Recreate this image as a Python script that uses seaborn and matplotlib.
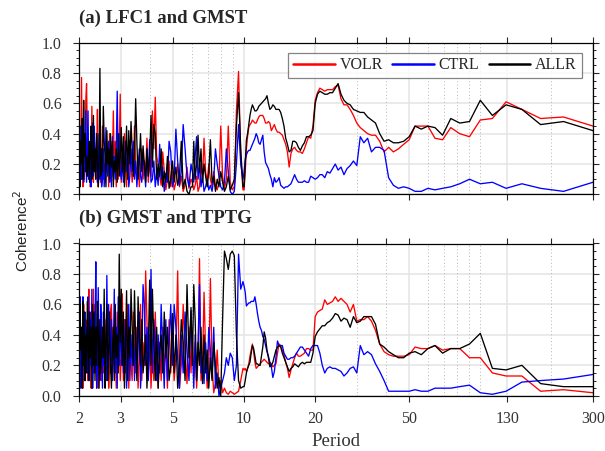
import numpy as np
import pandas as pd
import matplotlib
matplotlib.use("Agg")
import matplotlib.pyplot as plt
import seaborn as sns
from matplotlib.ticker import FixedLocator, NullFormatter, MultipleLocator, FormatStrFormatter

# spectral grid: harmonic k of a 900-yr record -> period = 900 / k
record_len = 900
k_long = np.arange(3, 91)                                   # periods 300 .. 10
k_short = np.concatenate([np.arange(91, 151, 2), np.arange(151, 451, 3)])  # periods 10 .. 2

runs = ["VOLR", "CTRL", "ALLR"]
run_colors = {"VOLR": "#ff0000", "CTRL": "#0000ff", "ALLR": "#000000"}
xticks = [2, 3, 5, 10, 20, 50, 130, 300]
top_extra_ticks = [30, 40, 200]
dotted_periods = [4, 6, 7, 8, 9, 30, 40, 60, 70, 80, 90, 100, 200]

# ---- (a) LFC1 and GMST ----
volr_a_long = [0.45, 0.51, 0.50, 0.56, 0.61, 0.50, 0.49, 0.38, 0.40, 0.44,
               0.36, 0.37, 0.45, 0.45, 0.45, 0.36, 0.33, 0.30, 0.28, 0.31,
               0.28, 0.35, 0.39, 0.39, 0.40, 0.42, 0.44, 0.47, 0.52, 0.56,
               0.59, 0.59, 0.63, 0.72, 0.71, 0.69, 0.69, 0.69, 0.68, 0.69,
               0.70, 0.67, 0.62, 0.45, 0.37, 0.38, 0.34, 0.30, 0.27, 0.28,
               0.28, 0.29, 0.31, 0.30, 0.27, 0.18, 0.28, 0.33, 0.36, 0.39,
               0.40, 0.41, 0.41, 0.43, 0.46, 0.44, 0.42, 0.47, 0.48, 0.47,
               0.47, 0.50, 0.52, 0.52, 0.52, 0.51, 0.49, 0.47, 0.47, 0.48,
               0.49, 0.47, 0.46, 0.44, 0.38, 0.30, 0.15, 0.03]
allr_a_long = [0.42, 0.48, 0.46, 0.56, 0.59, 0.52, 0.62, 0.48, 0.47, 0.50,
               0.39, 0.44, 0.45, 0.43, 0.45, 0.38, 0.35, 0.34, 0.34, 0.36,
               0.35, 0.40, 0.47, 0.49, 0.51, 0.54, 0.54, 0.55, 0.56, 0.59,
               0.60, 0.62, 0.66, 0.73, 0.70, 0.67, 0.67, 0.66, 0.66, 0.67,
               0.68, 0.66, 0.60, 0.42, 0.39, 0.38, 0.38, 0.34, 0.32, 0.29,
               0.31, 0.34, 0.35, 0.35, 0.29, 0.28, 0.33, 0.37, 0.45, 0.50,
               0.54, 0.56, 0.56, 0.56, 0.58, 0.59, 0.57, 0.56, 0.60, 0.65,
               0.63, 0.62, 0.61, 0.60, 0.59, 0.58, 0.56, 0.55, 0.55, 0.57,
               0.59, 0.56, 0.52, 0.46, 0.40, 0.36, 0.20, 0.05]
ctrl_a_long = [0.08, 0.02, 0.04, 0.07, 0.04, 0.08, 0.07, 0.10, 0.07, 0.05,
               0.04, 0.03, 0.04, 0.02, 0.02, 0.04, 0.05, 0.04, 0.06, 0.11,
               0.29, 0.31, 0.31, 0.28, 0.37, 0.34, 0.38, 0.19, 0.22, 0.19,
               0.17, 0.13, 0.18, 0.16, 0.20, 0.17, 0.14, 0.15, 0.11, 0.13,
               0.13, 0.11, 0.10, 0.11, 0.12, 0.08, 0.08, 0.09, 0.08, 0.08,
               0.08, 0.10, 0.13, 0.10, 0.07, 0.06, 0.05, 0.05, 0.04, 0.05,
               0.06, 0.11, 0.09, 0.08, 0.11, 0.05, 0.10, 0.13, 0.17, 0.19,
               0.21, 0.28, 0.39, 0.36, 0.33, 0.34, 0.38, 0.40, 0.37, 0.35,
               0.33, 0.31, 0.29, 0.29, 0.28, 0.26, 0.23, 0.15]

volr_a_short = [0.03, 0.25, 0.81, 0.55, 0.05, 0.03, 0.08, 0.45, 0.10, 0.04,
                0.12, 0.45, 0.08, 0.03, 0.06, 0.15, 0.05, 0.10, 0.20, 0.08,
                0.15, 0.37, 0.10, 0.20, 0.05, 0.02, 0.12, 0.06, 0.03, 0.08,
                0.10, 0.04, 0.18, 0.06, 0.02, 0.12, 0.05, 0.20, 0.08, 0.03,
                0.15, 0.05, 0.22, 0.10, 0.03, 0.16, 0.28, 0.06, 0.12, 0.20,
                0.25, 0.64, 0.30, 0.55, 0.12, 0.20, 0.08, 0.37, 0.15, 0.22,
                0.10, 0.30, 0.18, 0.05, 0.25, 0.12, 0.20, 0.45, 0.15, 0.08,
                0.20, 0.35, 0.10, 0.28, 0.05, 0.18, 0.40, 0.12, 0.25, 0.08,
                0.66, 0.30, 0.10, 0.22, 0.05, 0.35, 0.15, 0.55, 0.20, 0.08,
                0.12, 0.40, 0.05, 0.25, 0.15, 0.33, 0.08, 0.20, 0.10, 0.45,
                0.20, 0.08, 0.30, 0.15, 0.05, 0.56, 0.25, 0.10, 0.18, 0.35,
                0.08, 0.25, 0.58, 0.12, 0.05, 0.30, 0.20, 0.15, 0.40, 0.73,
                0.63, 0.20, 0.10, 0.35, 0.05, 0.25, 0.77, 0.30, 0.10, 0.45]
allr_a_short = [0.05, 0.30, 0.67, 0.45, 0.10, 0.06, 0.03, 0.12, 0.05, 0.02,
                0.08, 0.15, 0.05, 0.10, 0.02, 0.12, 0.08, 0.36, 0.15, 0.05,
                0.12, 0.20, 0.08, 0.30, 0.15, 0.39, 0.20, 0.10, 0.35, 0.05,
                0.05, 0.00, 0.02, 0.10, 0.04, 0.35, 0.12, 0.06, 0.18, 0.08,
                0.22, 0.10, 0.04, 0.25, 0.08, 0.15, 0.05, 0.30, 0.12, 0.20,
                0.10, 0.40, 0.46, 0.18, 0.52, 0.25, 0.12, 0.30, 0.08, 0.20,
                0.32, 0.15, 0.40, 0.22, 0.10, 0.35, 0.63, 0.28, 0.12, 0.30,
                0.48, 0.20, 0.42, 0.10, 0.45, 0.25, 0.05, 0.38, 0.15, 0.44,
                0.25, 0.12, 0.40, 0.08, 0.30, 0.15, 0.22, 0.05, 0.35, 0.18,
                0.40, 0.10, 0.30, 0.20, 0.42, 0.05, 0.25, 0.35, 0.58, 0.15,
                0.30, 0.12, 0.83, 0.20, 0.05, 0.25, 0.40, 0.10, 0.30, 0.15,
                0.52, 0.20, 0.10, 0.45, 0.30, 0.08, 0.35, 0.20, 0.12, 0.25,
                0.15, 0.40, 0.25, 0.62, 0.10, 0.50, 0.20, 0.35, 0.05, 0.40]
ctrl_a_short = [0.10, 0.20, 0.46, 0.20, 0.02, 0.00, 0.02, 0.15, 0.30, 0.08,
                0.03, 0.05, 0.12, 0.20, 0.30, 0.10, 0.02, 0.06, 0.03, 0.10,
                0.05, 0.02, 0.12, 0.05, 0.20, 0.10, 0.38, 0.25, 0.08, 0.15,
                0.20, 0.05, 0.12, 0.30, 0.46, 0.15, 0.06, 0.22, 0.43, 0.10,
                0.05, 0.28, 0.35, 0.08, 0.14, 0.02, 0.18, 0.10, 0.33, 0.06,
                0.15, 0.05, 0.22, 0.10, 0.08, 0.36, 0.12, 0.30, 0.05, 0.18,
                0.25, 0.08, 0.12, 0.30, 0.18, 0.05, 0.22, 0.10, 0.35, 0.15,
                0.30, 0.12, 0.05, 0.25, 0.15, 0.35, 0.20, 0.08, 0.28, 0.10,
                0.15, 0.40, 0.20, 0.68, 0.30, 0.10, 0.25, 0.12, 0.38, 0.05,
                0.22, 0.08, 0.35, 0.12, 0.25, 0.44, 0.18, 0.05, 0.30, 0.10,
                0.05, 0.25, 0.10, 0.40, 0.20, 0.08, 0.35, 0.15, 0.30, 0.45,
                0.12, 0.47, 0.20, 0.05, 0.35, 0.25, 0.10, 0.55, 0.30, 0.08,
                0.55, 0.15, 0.30, 0.08, 0.40, 0.20, 0.10, 0.35, 0.45, 0.15]

# ---- (b) GMST and TPTG ----
volr_b_long = [0.02, 0.04, 0.03, 0.13, 0.13, 0.15, 0.25, 0.25, 0.31, 0.31,
               0.30, 0.33, 0.31, 0.31, 0.32, 0.27, 0.26, 0.26, 0.26, 0.27,
               0.29, 0.34, 0.43, 0.49, 0.52, 0.50, 0.50, 0.49, 0.60, 0.55,
               0.60, 0.62, 0.64, 0.62, 0.65, 0.62, 0.61, 0.60, 0.63, 0.57,
               0.56, 0.55, 0.52, 0.30, 0.30, 0.31, 0.31, 0.28, 0.27, 0.26,
               0.26, 0.28, 0.25, 0.21, 0.17, 0.12, 0.18, 0.22, 0.27, 0.30,
               0.33, 0.34, 0.28, 0.21, 0.20, 0.19, 0.21, 0.22, 0.21, 0.22,
               0.23, 0.24, 0.23, 0.22, 0.21, 0.20, 0.19, 0.18, 0.22, 0.29,
               0.34, 0.30, 0.26, 0.21, 0.18, 0.16, 0.18, 0.17]
allr_b_long = [0.06, 0.06, 0.08, 0.20, 0.17, 0.18, 0.41, 0.34, 0.31, 0.31,
               0.28, 0.33, 0.31, 0.27, 0.29, 0.28, 0.25, 0.25, 0.27, 0.29,
               0.32, 0.34, 0.47, 0.52, 0.52, 0.52, 0.49, 0.48, 0.52, 0.45,
               0.50, 0.51, 0.49, 0.53, 0.54, 0.51, 0.49, 0.48, 0.46, 0.46,
               0.44, 0.42, 0.39, 0.28, 0.22, 0.22, 0.22, 0.21, 0.22, 0.21,
               0.19, 0.20, 0.21, 0.19, 0.18, 0.16, 0.19, 0.22, 0.25, 0.28,
               0.32, 0.33, 0.32, 0.30, 0.26, 0.22, 0.20, 0.19, 0.25, 0.30,
               0.38, 0.42, 0.32, 0.26, 0.20, 0.20, 0.21, 0.21, 0.26, 0.31,
               0.33, 0.28, 0.22, 0.20, 0.18, 0.15, 0.10, 0.06]
ctrl_b_long = [0.14, 0.11, 0.10, 0.09, 0.03, 0.01, 0.02, 0.07, 0.06, 0.05,
               0.05, 0.05, 0.03, 0.03, 0.04, 0.03, 0.03, 0.03, 0.03, 0.03,
               0.10, 0.16, 0.21, 0.27, 0.29, 0.27, 0.33, 0.15, 0.19, 0.18,
               0.15, 0.13, 0.16, 0.17, 0.18, 0.18, 0.19, 0.18, 0.15, 0.20,
               0.28, 0.33, 0.33, 0.33, 0.31, 0.26, 0.28, 0.30, 0.32, 0.32,
               0.30, 0.28, 0.26, 0.25, 0.25, 0.24, 0.24, 0.26, 0.28, 0.33,
               0.33, 0.33, 0.36, 0.25, 0.16, 0.12, 0.19, 0.22, 0.26, 0.29,
               0.33, 0.37, 0.39, 0.43, 0.45, 0.49, 0.54, 0.60, 0.65, 0.62,
               0.62, 0.62, 0.61, 0.61, 0.60, 0.59, 0.68, 0.72]

volr_b_short = [0.18, 0.10, 0.03, 0.02, 0.01, 0.02, 0.03, 0.01, 0.02, 0.05,
                0.02, 0.10, 0.05, 0.30, 0.08, 0.02, 0.20, 0.77, 0.15, 0.05,
                0.30, 0.68, 0.20, 0.10, 0.90, 0.25, 0.05, 0.35, 0.12, 0.40,
                0.15, 0.45, 0.08, 0.30, 0.60, 0.20, 0.05, 0.82, 0.25, 0.10,
                0.40, 0.15, 0.50, 0.05, 0.30, 0.20, 0.45, 0.10, 0.35, 0.05,
                0.25, 0.55, 0.10, 0.30, 0.05, 0.40, 0.15, 0.50, 0.82, 0.20,
                0.35, 0.10, 0.60, 0.25, 0.05, 0.45, 0.15, 0.30, 0.55, 0.10,
                0.20, 0.45, 0.05, 0.60, 0.30, 0.15, 0.50, 0.10, 0.67, 0.25,
                0.10, 0.40, 0.20, 0.55, 0.05, 0.30, 0.15, 0.45, 0.25, 0.60,
                0.55, 0.20, 0.05, 0.40, 0.25, 0.10, 0.50, 0.30, 0.15, 0.42,
                0.10, 0.35, 0.20, 0.50, 0.05, 0.30, 0.45, 0.15, 0.60, 0.25,
                0.70, 0.15, 0.40, 0.05, 0.55, 0.25, 0.70, 0.10, 0.35, 0.20,
                0.50, 0.10, 0.30, 0.60, 0.05, 0.40, 0.20, 0.15, 0.35, 0.25]
allr_b_short = [0.06, 0.05, 0.10, 0.40, 0.92, 0.95, 0.93, 0.83, 0.90, 0.95,
                0.50, 0.00, 0.12, 0.05, 0.20, 0.35, 0.10, 0.25, 0.05, 0.30,
                0.15, 0.40, 0.08, 0.45, 0.20, 0.35, 0.10, 0.50, 0.73, 0.20,
                0.58, 0.25, 0.73, 0.10, 0.35, 0.50, 0.20, 0.05, 0.40, 0.15,
                0.54, 0.20, 0.10, 0.45, 0.25, 0.55, 0.15, 0.40, 0.30, 0.05,
                0.45, 0.10, 0.35, 0.70, 0.20, 0.76, 0.30, 0.05, 0.40, 0.25,
                0.15, 0.50, 0.20, 0.40, 0.65, 0.10, 0.35, 0.69, 0.20, 0.45,
                0.70, 0.25, 0.45, 0.10, 0.69, 0.30, 0.05, 0.55, 0.20, 0.70,
                0.35, 0.93, 0.15, 0.40, 0.25, 0.60, 0.10, 0.45, 0.30, 0.05,
                0.20, 0.55, 0.30, 0.10, 0.60, 0.35, 0.05, 0.70, 0.25, 0.45,
                0.30, 0.15, 0.50, 0.05, 0.40, 0.62, 0.20, 0.45, 0.10, 0.55,
                0.20, 0.60, 0.05, 0.45, 0.25, 0.55, 0.10, 0.35, 0.62, 0.15,
                0.40, 0.10, 0.55, 0.20, 0.62, 0.05, 0.45, 0.30, 0.60, 0.35]
ctrl_b_short = [0.75, 0.70, 0.93, 0.20, 0.10, 0.25, 0.28, 0.20, 0.25, 0.15,
                0.10, 0.05, 0.00, 0.15, 0.05, 0.45, 0.12, 0.30, 0.45, 0.10,
                0.35, 0.08, 0.25, 0.15, 0.73, 0.30, 0.10, 0.40, 0.05, 0.35,
                0.56, 0.10, 0.30, 0.55, 0.15, 0.40, 0.05, 0.25, 0.45, 0.60,
                0.20, 0.60, 0.35, 0.10, 0.50, 0.05, 0.30, 0.60, 0.15, 0.40,
                0.10, 0.35, 0.50, 0.15, 0.83, 0.30, 0.10, 0.45, 0.20, 0.60,
                0.73, 0.25, 0.05, 0.55, 0.30, 0.15, 0.45, 0.10, 0.35, 0.20,
                0.40, 0.10, 0.60, 0.25, 0.05, 0.50, 0.30, 0.15, 0.45, 0.20,
                0.55, 0.20, 0.65, 0.05, 0.45, 0.15, 0.70, 0.30, 0.10, 0.50,
                0.15, 0.40, 0.60, 0.25, 0.79, 0.10, 0.35, 0.20, 0.55, 0.05,
                0.40, 0.60, 0.10, 0.30, 0.71, 0.25, 0.05, 0.88, 0.35, 0.15,
                0.30, 0.05, 0.70, 0.20, 0.50, 0.10, 0.40, 0.65, 0.15, 0.45,
                0.25, 0.55, 0.10, 0.45, 0.65, 0.20, 0.35, 0.05, 0.65, 0.40]


def panel_frame(volr, ctrl, allr):
    k = np.concatenate([k_long, k_short])
    rows = []
    for name, (lo, hi) in zip(runs, [volr, ctrl, allr]):
        vals = np.concatenate([lo, hi])
        rows.append(pd.DataFrame({"period": record_len / k, "coherence": vals, "run": name}))
    return pd.concat(rows, ignore_index=True)


df_a = panel_frame((volr_a_long, volr_a_short), (ctrl_a_long, ctrl_a_short), (allr_a_long, allr_a_short))
df_b = panel_frame((volr_b_long, volr_b_short), (ctrl_b_long, ctrl_b_short), (allr_b_long, allr_b_short))

sns.set_theme(style="white")
plt.rcParams["font.family"] = ["Liberation Serif", "DejaVu Serif"]
plt.rcParams["axes.linewidth"] = 0.9
plt.rcParams["axes.edgecolor"] = "black"

fig = plt.figure(figsize=(6.05, 4.51), dpi=100)
W, H = 605, 451
ax_a = fig.add_axes([79 / W, 1 - 194.4 / H, 514 / W, 151.8 / H])
ax_b = fig.add_axes([79 / W, 1 - 395.8 / H, 514 / W, 152.3 / H])

for ax, df, title in [(ax_a, df_a, "(a) LFC1 and GMST"), (ax_b, df_b, "(b) GMST and TPTG")]:
    ax.set_xscale("log")
    ax.set_axisbelow(True)
    sns.lineplot(data=df, x="period", y="coherence", hue="run", hue_order=runs,
                 palette=run_colors, estimator=None, lw=0.95, ax=ax)
    ax.set_xlim(2, 300)
    ax.set_ylim(0, 1)
    ax.xaxis.set_major_locator(FixedLocator(xticks))
    ax.xaxis.set_major_formatter(FormatStrFormatter("%g"))
    ax.xaxis.set_minor_locator(FixedLocator(top_extra_ticks))
    ax.xaxis.set_minor_formatter(NullFormatter())
    ax.yaxis.set_major_locator(MultipleLocator(0.2))
    ax.yaxis.set_minor_locator(MultipleLocator(0.05))
    ax.yaxis.set_major_formatter(FormatStrFormatter("%.1f"))
    ax.grid(True, which="major", color="#e4e4e4", lw=1.1)
    for p in dotted_periods:
        ax.axvline(p, color="#b5b5b5", lw=0.7, ls=(0, (1, 2.5)), zorder=0.8)
    ax.tick_params(axis="x", which="major", direction="out", length=4.5, width=0.8,
                   top=True, bottom=True, labelsize=11.5, pad=6.5, labelcolor="#333333")
    ax.tick_params(axis="x", which="minor", direction="out", length=4.5, width=0.8,
                   top=True, bottom=False)
    ax.tick_params(axis="y", which="major", direction="out", length=4.5, width=0.8,
                   left=True, right=True, labelsize=11.5, pad=8, labelcolor="#333333")
    ax.tick_params(axis="y", which="minor", direction="out", length=2.3, width=0.7,
                   left=True, right=True)
    ax.set_xlabel("")
    ax.set_ylabel("")
    ax.annotate(title, xy=(0, 1), xycoords="axes fraction", xytext=(0, 14.5),
                textcoords="offset points", ha="left", va="baseline",
                fontsize=13.5, fontweight="bold")

ax_a.tick_params(axis="x", labelbottom=False)
ax_b.get_legend().remove()

handles, labels = ax_a.get_legend_handles_labels()
ax_a.get_legend().remove()
leg = ax_a.legend(handles, labels, loc="upper right", bbox_to_anchor=(0.978, 0.934),
                  borderaxespad=0, ncol=3, frameon=True, fancybox=False,
                  edgecolor="#666666", fontsize=11.5, handlelength=2.6,
                  handletextpad=0.3, columnspacing=0.6, borderpad=0.3)
leg.get_frame().set_linewidth(0.9)
for line in leg.get_lines():
    line.set_linewidth(1.8)

fig.text(22 / W, 1 - 231 / H, "Coherence$^2$", rotation=90, ha="center", va="center",
         fontsize=11, family=["Liberation Sans", "DejaVu Sans"], color="#222222")
fig.text(336 / W, 5 / H, "Period", ha="center", va="baseline", fontsize=13.5, color="#333333")

fig.savefig("out.png", dpi=100)
